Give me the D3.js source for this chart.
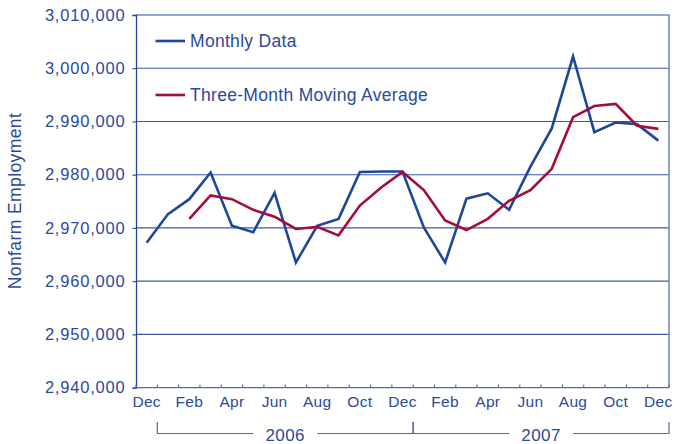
<!DOCTYPE html>
<html>
<head>
<meta charset="utf-8">
<script src="https://cdn.jsdelivr.net/npm/d3@7"></script>
<style>
  html, body { margin: 0; padding: 0; background: #ffffff; }
  svg { display: block; font-family: "Liberation Sans", Arial, Helvetica, sans-serif; }
</style>
</head>
<body>
<svg id="chart" width="675" height="444"></svg>
<script>
// ---- data ----
const months = ["Dec","Jan","Feb","Mar","Apr","May","Jun","Jul","Aug","Sep","Oct","Nov",
                "Dec","Jan","Feb","Mar","Apr","May","Jun","Jul","Aug","Sep","Oct","Nov","Dec"];
const monthlyData = [2967200, 2972600, 2975400, 2980400, 2970400, 2969200, 2976600, 2963500,
                     2970400, 2971700, 2980500, 2980600, 2980600, 2970100, 2963500, 2975500,
                     2976500, 2973400, 2981500, 2988700, 3002200, 2988000, 2989800, 2989500, 2986400];
const movingAverage = [null, null, 2971700, 2976100, 2975400, 2973400, 2972100, 2969800,
                       2970200, 2968600, 2974200, 2977600, 2980500, 2977100, 2971400, 2969600,
                       2971700, 2975100, 2977100, 2981100, 2990800, 2992900, 2993300, 2989200, 2988600];
const yTicks = [2940000, 2950000, 2960000, 2970000, 2980000, 2990000, 3000000, 3010000];
const years = ["2006", "2007"];
const yearStart = [1, 13];   // first month index of each year
const yearEnd = [12, 24];    // last month index of each year
const seriesNames = ["Monthly Data", "Three-Month Moving Average"];
const seriesColors = ["#1f4799", "#a30d3c"];

// ---- layout ----
const svg = d3.select("#chart");
const pL = 136, pR = 669, pT = 15, pB = 387.6;
const textColor = "#2a4a9c";
const axisColor = "#22449a";
const gridColor = "#3a58a3";

const idx = d3.range(months.length);
const x = d3.scaleBand().domain(idx).range([pL, pR]).padding(0);
const bw = x.bandwidth();
const cx = i => x(i) + bw / 2;
const y = d3.scaleLinear().domain([2940000, 3010000]).range([pB, pT]);

// gridlines
svg.append("g").selectAll("line")
  .data(yTicks.slice(1, -1))
  .join("line")
  .attr("x1", pL).attr("x2", pR)
  .attr("y1", d => y(d)).attr("y2", d => y(d))
  .attr("stroke", gridColor).attr("stroke-width", 1.1);

// frame top & right (lighter)
svg.append("line").attr("x1", pL).attr("x2", pR + 0.5).attr("y1", pT).attr("y2", pT)
  .attr("stroke", "#7088c2").attr("stroke-width", 1.4);
svg.append("line").attr("x1", pR).attr("x2", pR).attr("y1", pT).attr("y2", pB)
  .attr("stroke", "#7088c2").attr("stroke-width", 1.6);

// y axis
const yAxis = d3.axisLeft(y).tickValues(yTicks).tickSize(3.5).tickPadding(7)
  .tickFormat(d3.format(","));
const gy = svg.append("g").attr("transform", `translate(${pL},0)`).call(yAxis);
gy.select(".domain").attr("stroke", axisColor).attr("stroke-width", 1.3);
gy.selectAll(".tick line").attr("stroke", axisColor).attr("stroke-width", 1.1);
gy.selectAll(".tick text").attr("fill", textColor).style("font-size", "16.5px")
  .style("letter-spacing", "0.8px").attr("font-family", "Liberation Sans, Arial, sans-serif");

// x axis line
svg.append("line").attr("x1", pL).attr("x2", pR).attr("y1", pB).attr("y2", pB)
  .attr("stroke", "#4f6bb0").attr("stroke-width", 1.2);
// x ticks at band boundaries (pointing up)
const bounds = d3.range(months.length + 1).map(k => pL + k * bw);
svg.append("g").selectAll("line").data(bounds).join("line")
  .attr("x1", d => d).attr("x2", d => d)
  .attr("y1", pB - 3).attr("y2", pB)
  .attr("stroke", "#4f6bb0").attr("stroke-width", 1.1);
// month labels every other month
svg.append("g").selectAll("text")
  .data(idx.filter(i => i % 2 === 0))
  .join("text")
  .attr("x", i => cx(i)).attr("y", 407)
  .attr("text-anchor", "middle")
  .attr("fill", textColor)
  .style("font-size", "15.5px").style("letter-spacing", "0.3px")
  .text(i => months[i]);

// year brackets
const bracketY = 433.5, bracketTop = 422;
years.forEach((yr, j) => {
  const x0 = x(yearStart[j]);
  const x1 = x(yearEnd[j]) + bw;
  const mid = (x0 + x1) / 2;
  const g = svg.append("g");
  g.append("text").attr("x", mid).attr("y", 441)
    .attr("text-anchor", "middle").attr("fill", textColor)
    .style("font-size", "17px").style("letter-spacing", "0.4px").text(yr);
  const half = 32;
  g.append("path")
    .attr("d", `M${x0},${bracketTop}V${bracketY}H${mid - half}M${mid + half},${bracketY}H${x1}V${bracketTop}`)
    .attr("fill", "none").attr("stroke", "#4f6bb0").attr("stroke-width", 1.2);
});

// y axis title
svg.append("text")
  .attr("transform", `translate(21,201) rotate(-90)`)
  .attr("text-anchor", "middle").attr("fill", textColor)
  .style("font-size", "17.5px").style("letter-spacing", "0.4px")
  .text("Nonfarm Employment");

// lines
const lineGen = d3.line()
  .defined(d => d.v !== null)
  .x(d => cx(d.i)).y(d => y(d.v));
[monthlyData, movingAverage].forEach((arr, s) => {
  svg.append("path")
    .datum(arr.map((v, i) => ({ i, v })))
    .attr("d", lineGen)
    .attr("fill", "none")
    .attr("stroke", seriesColors[s])
    .attr("stroke-width", 2.6)
    .attr("stroke-linejoin", "miter");
});

// legend
const legY = [41, 95];
seriesNames.forEach((name, s) => {
  svg.append("line").attr("x1", 155.5).attr("x2", 185).attr("y1", legY[s]).attr("y2", legY[s])
    .attr("stroke", seriesColors[s]).attr("stroke-width", 2.6);
  svg.append("text").attr("x", 190).attr("y", legY[s] + 6.3)
    .attr("fill", textColor).style("font-size", "17.5px").style("letter-spacing", "0.3px")
    .text(name);
});
</script>
</body>
</html>
